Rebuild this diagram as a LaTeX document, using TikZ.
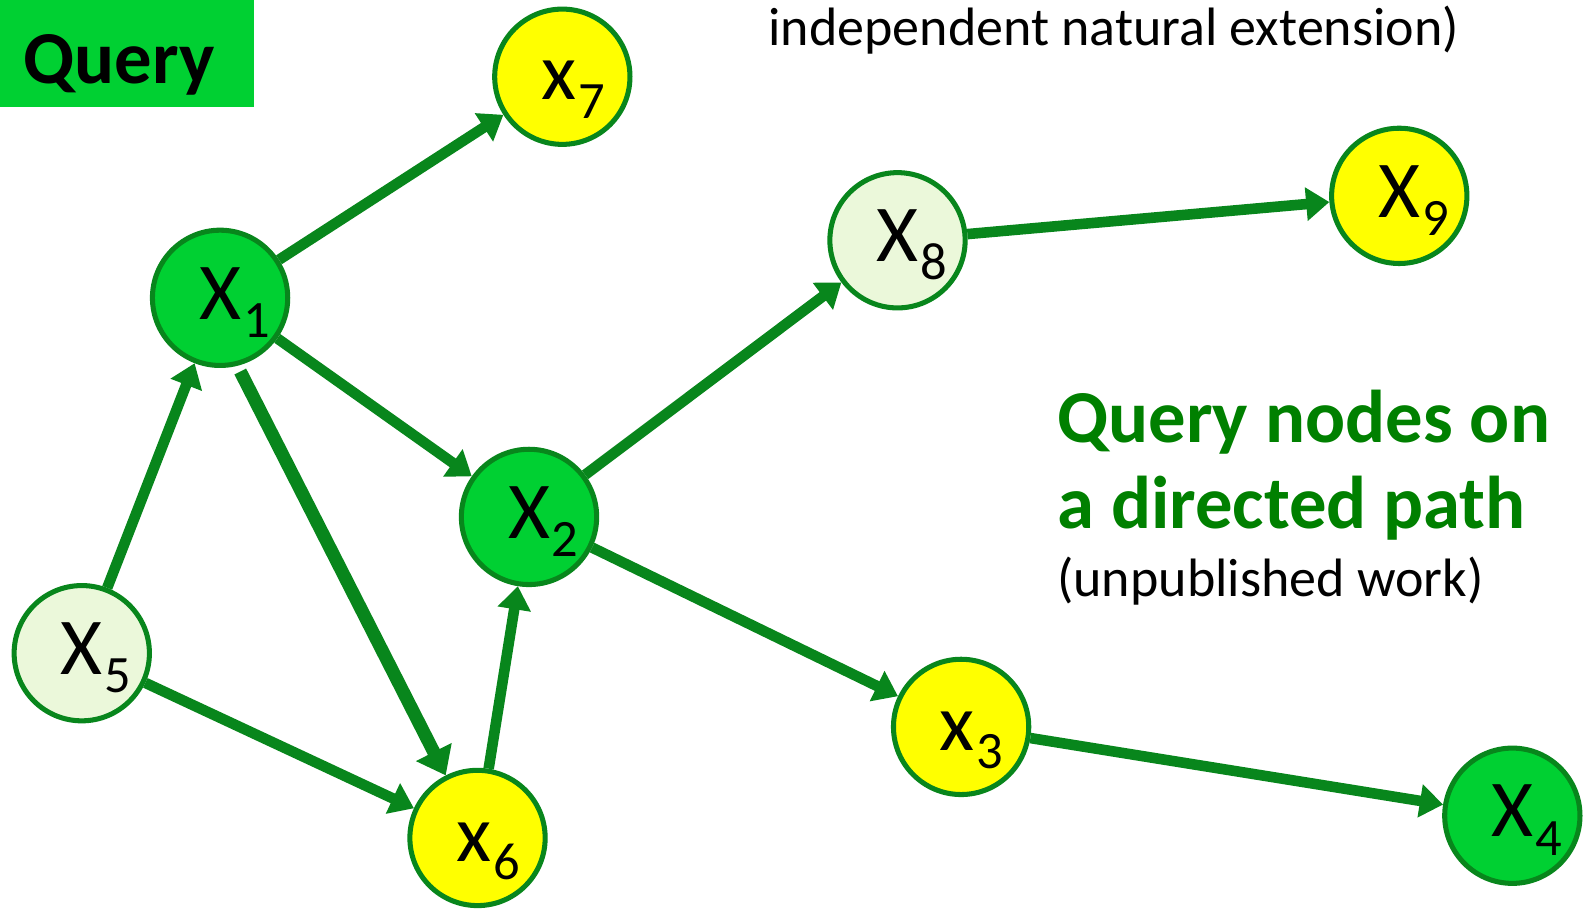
\documentclass[tikz,border=0pt]{standalone}
\usepackage{fontspec}
\setmainfont{Carlito}
\usetikzlibrary{arrows.meta,calc}

\definecolor{edgegreen}{RGB}{8,134,28}
\definecolor{qgreen}{RGB}{0,208,50}
\definecolor{lgreen}{RGB}{235,248,218}
\definecolor{qyellow}{RGB}{255,255,0}
\definecolor{tgreen}{RGB}{0,128,0}

% variable label: letter centred (shifted by #3), subscript hanging to the right
\newcommand\varlab[3]{\makebox[0pt]{\kern#3#1\rlap{\kern2pt\raisebox{-18pt}{\fontsize{52}{52}\selectfont #2}}}}

\tikzset{
  varnode/.style={circle, draw=edgegreen, line width=5pt, minimum size=134pt,
    inner sep=0pt, text depth=0pt, text height=42pt,
    font=\fontsize{80}{80}\selectfont},
  lowvar/.style={text height=46pt},
  qnode/.style={varnode, fill=qgreen},
  lnode/.style={varnode, fill=lgreen},
  ynode/.style={varnode, fill=qyellow},
  edge/.style={draw=edgegreen, line width=10.5pt,
    -{Triangle[length=23pt,width=32pt]}},
  heavy edge/.style={edge, line width=13pt,
    -{Triangle[length=26pt,width=38pt]}},
  boldtext/.style={anchor=base west, inner sep=0pt,
    font=\bfseries\fontsize{74}{80}\selectfont},
  plaintext/.style={anchor=base west, inner sep=0pt,
    font=\fontsize{53.5}{60}\selectfont}
}

\begin{document}
\begin{tikzpicture}[x=1pt, y=-1pt]
\useasboundingbox (0,0) rectangle (1568,900);

% heading box
\node[fill=qgreen, anchor=north west, minimum width=251pt, minimum height=106pt,
      inner sep=0pt] (qbox) at (0,0) {};
\node[boldtext] (qword) at (23,83) {Query};

% texts
\node[plaintext] (toptext) at (761,45) {independent natural extension)};
\node[boldtext, text=tgreen] (title1) at (1047,438) {Query nodes on};
\node[boldtext, text=tgreen] (title2) at (1047,523) {a directed path};
\node[plaintext] (title3) at (1047,591) {(unpublished work)};

% variables
\node[qnode] (X1) at (218,295) {\varlab{X}{1}{0pt}};
\node[qnode] (X2) at (524,512) {\varlab{X}{2}{0pt}};
\node[qnode] (X4) at (1498,808) {\varlab{X}{4}{0pt}};
\node[lnode] (X5) at (81,647) {\varlab{X}{5}{0pt}};
\node[lnode] (X8) at (889,238) {\varlab{X}{8}{0pt}};
\node[ynode] (X9) at (1386,194) {\varlab{X}{9}{0pt}};
\node[ynode, lowvar] (X7) at (557,76) {\varlab{x}{7}{-7pt}};
\node[ynode, lowvar] (X6) at (473,830) {\varlab{x}{6}{-8pt}};
\node[ynode, lowvar] (X3) at (952,720) {\varlab{x}{3}{-8pt}};

% arcs
\coordinate (X1low) at ($(X1)+(20,73)$);
\draw[edge] (X1) -- (X7);
\draw[edge] (X1) -- (X2);
\draw[heavy edge] (X1low) -- (X6);
\draw[edge] (X5) -- (X1);
\draw[edge] (X5) -- (X6);
\draw[edge] (X6) -- (X2);
\draw[edge] (X2) -- (X8);
\draw[edge] (X2) -- (X3);
\draw[edge] (X8) -- (X9);
\draw[edge] (X3) -- (X4);
\end{tikzpicture}
\end{document}
